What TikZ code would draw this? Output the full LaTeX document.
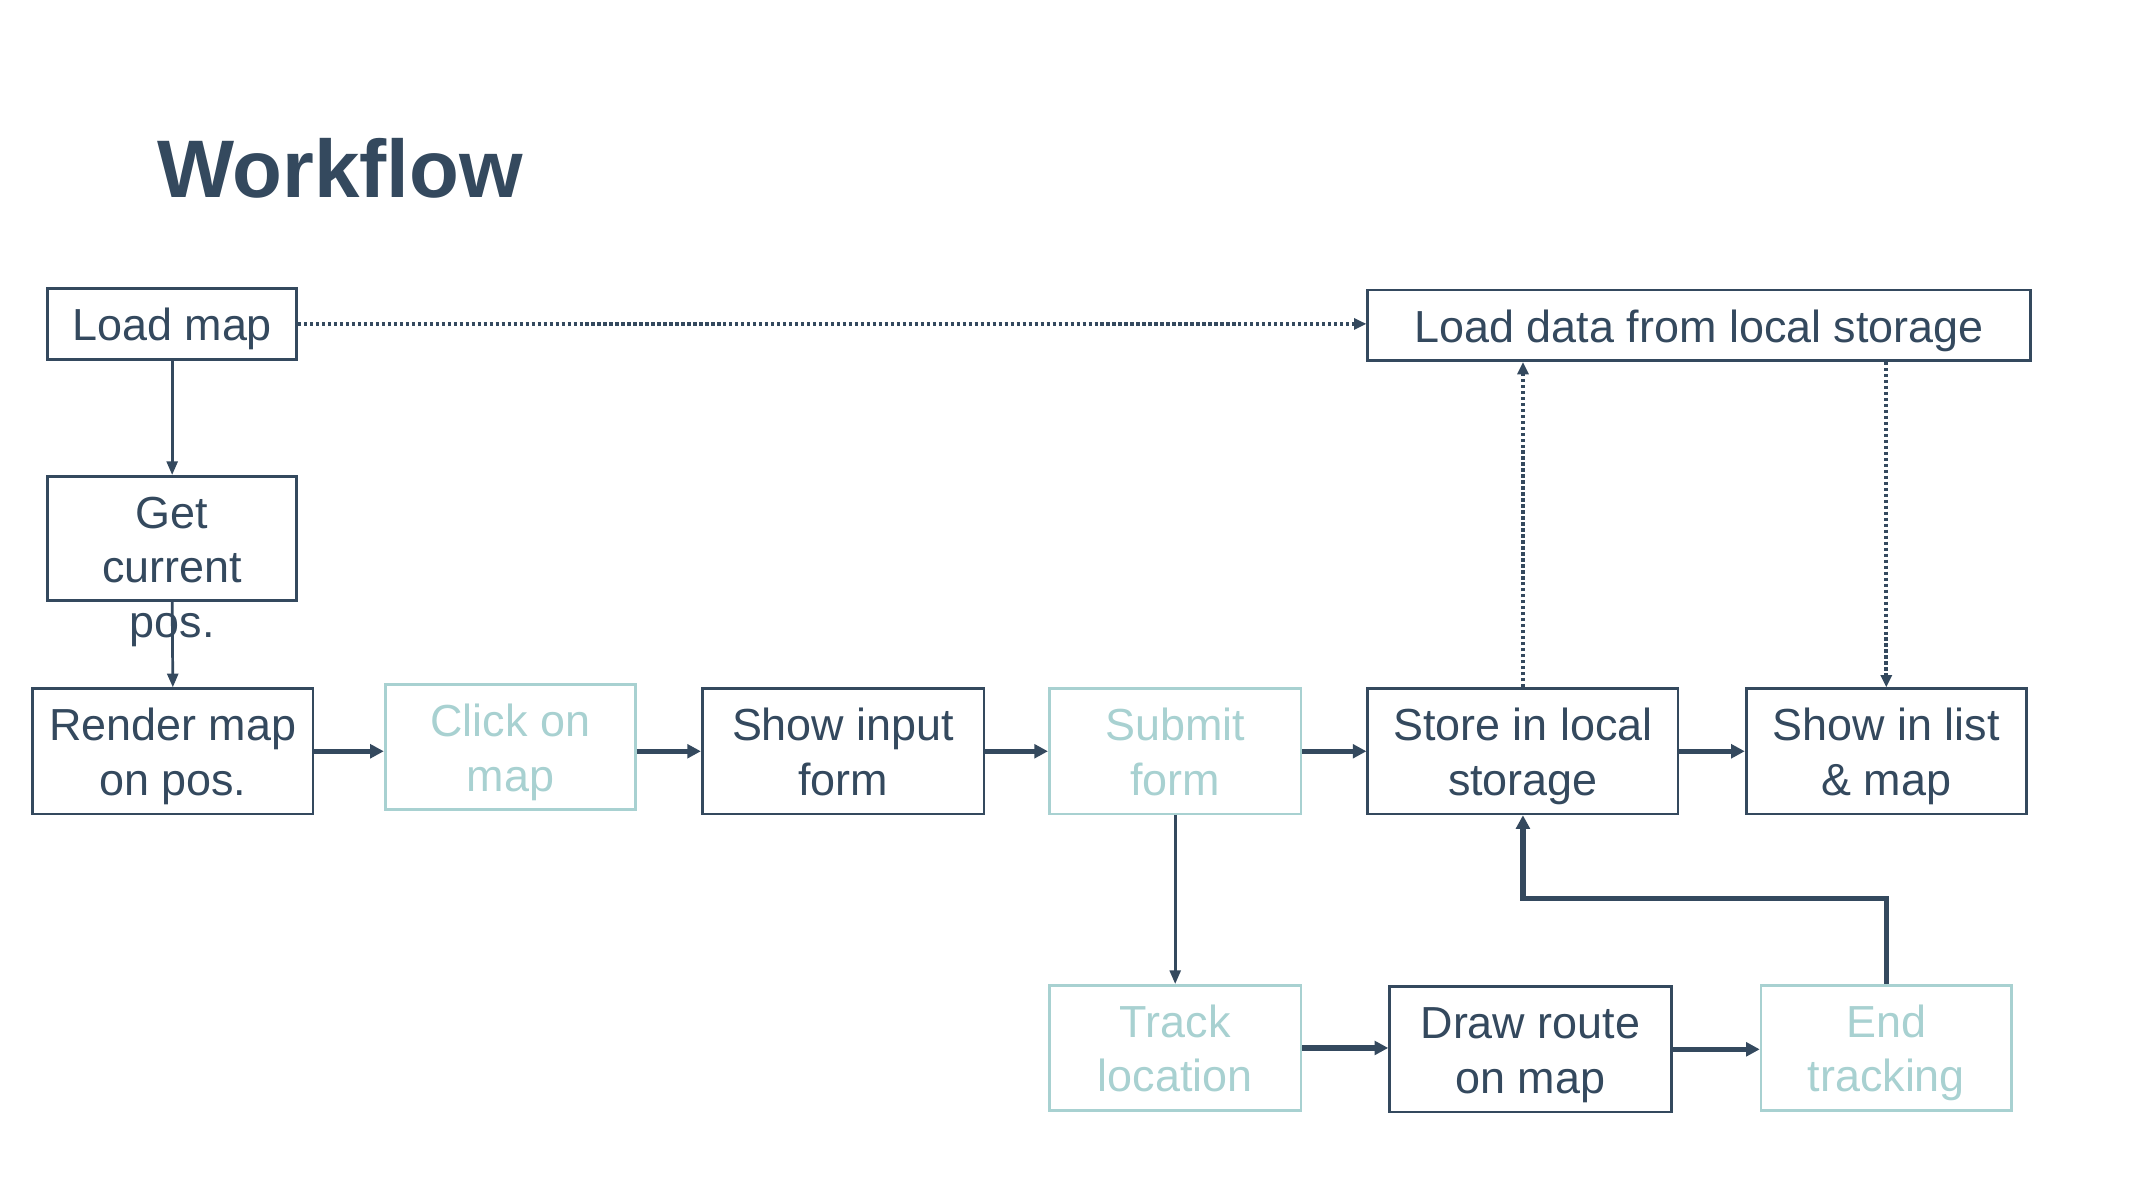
\documentclass[tikz,border=0pt]{standalone}
\usepackage{fontspec}
\setmainfont{Liberation Sans}
\usetikzlibrary{arrows.meta}
\definecolor{navy}{HTML}{34495E}
\definecolor{teal}{HTML}{A8D1D1}
\newcommand{\zs}{\rule[-3.7pt]{0pt}{19.7pt}}
\begin{document}
\begin{tikzpicture}[x=0.5pt,y=-0.5pt,
  txt/.style={font=\fontsize{16.5}{20}\selectfont, align=center},
  dbox/.style={txt, draw=navy, text=navy, line width=1pt, inner sep=0pt, minimum height=46pt},
  lbox/.style={txt, draw=teal, text=teal, line width=1pt, inner sep=0pt, minimum height=46pt},
  thin/.style={draw=navy, line width=1pt, -{Triangle[length=5pt,width=4pt]}},
  thick/.style={draw=navy, line width=1.9pt, -{Triangle[length=5pt,width=5pt]}},
  dotl/.style={draw=navy, line width=1.4pt, dash pattern={on 1.2pt off 1pt}, -{Triangle[length=4.5pt,width=4pt]}}
]
\useasboundingbox (0,0) rectangle (1568,873);
\fill[white] (0,0) rectangle (1568,873);

\node[anchor=base west, text=navy, font=\fontsize{30}{36}\selectfont\bfseries, inner sep=0pt] (title) at (115,145) {Workflow};

\node[dbox, minimum width=91.5pt, minimum height=26pt] (loadmap) at (126.5,238) {\zs Load map};
\node[dbox, minimum width=243.5pt, minimum height=26pt] (loaddata) at (1248.5,239) {\zs Load data from local storage};
\node[dbox, minimum width=91.5pt, minimum height=45.5pt] (get) at (126.5,395.5) {};
\node[txt, text=navy, inner sep=0pt] (gettext) at (126.5,416) {\zs Get\\\zs current\\\zs pos.};
\node[dbox, minimum width=103pt] (render) at (127,552) {\zs Render map\\\zs on pos.};
\node[lbox, minimum width=92pt] (click) at (375,549) {\zs Click on\\\zs map};
\node[dbox, minimum width=103.5pt] (showinput) at (619.5,552) {\zs Show input\\\zs form};
\node[lbox, minimum width=92.5pt] (submit) at (863.5,552) {\zs Submit\\\zs form};
\node[dbox, minimum width=114pt] (store) at (1119,552) {\zs Store in local\\\zs storage};
\node[dbox, minimum width=103pt] (showlist) at (1386,552) {\zs Show in list\\\zs \& map};
\node[lbox, minimum width=92.5pt] (track) at (863.5,770) {\zs Track\\\zs location};
\node[dbox, minimum width=103.5pt] (route) at (1124.5,771) {\zs Draw route\\\zs on map};
\node[lbox, minimum width=92pt] (endtr) at (1386,770) {\zs End\\\zs tracking};

\coordinate (turn) at (1386,660);

\draw[thin] (loadmap.south) -- (get.north);
\draw[thin] (get.south) -- (render.north);
\draw[dotl] (loadmap.east) -- (loaddata.west |- loadmap.east);
\draw[thick] (render.east) -- (click.west |- render.east);
\draw[thick] (click.east |- showinput.west) -- (showinput.west);
\draw[thick] (showinput.east) -- (submit.west);
\draw[thick] (submit.east) -- (store.west);
\draw[thick] (store.east) -- (showlist.west);
\draw[thin] (submit.south) -- (track.north);
\draw[thick] (track.east) -- (route.west |- track.east);
\draw[thick] (route.east) -- (endtr.west |- route.east);
\draw[thick] (endtr.north) -- (turn) -| (store.south);
\draw[dotl] (store.north) -- (store.north |- loaddata.south);
\draw[dotl] (showlist.north |- loaddata.south) -- (showlist.north);
\end{tikzpicture}
\end{document}
